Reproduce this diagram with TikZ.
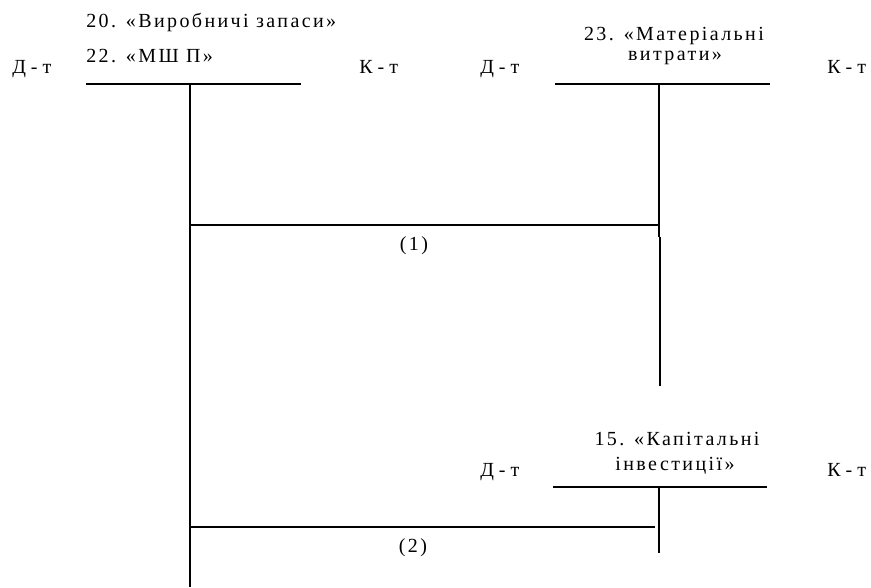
\documentclass[tikz,border=0pt]{standalone}
\usepackage{fontspec}
\setmainfont[LetterSpace=12]{Liberation Serif}
\newfontfamily\widefont[LetterSpace=25]{Liberation Serif}
\begin{document}
\begin{tikzpicture}[x=0.75pt,y=-0.75pt,
  lbl/.style={inner sep=0pt,anchor=base,font=\fontsize{15}{18}\selectfont},
  side/.style={inner sep=0pt,anchor=base west,font=\widefont\fontsize{15}{18}\selectfont},
  acc/.style={line width=1.2pt,black},
  ln/.style={line width=1pt,black}]
\useasboundingbox (0,0) rectangle (871,587);
% left account
\node[side] (d1) at (12,73) {Д-т};
\node[side] (k1) at (359,73) {К-т};
\node[lbl,anchor=base west] (t1a) at (86,27) {20. «Виробничі запаси»};
\node[lbl,anchor=base west] (t1b) at (86,62) {22. «МШ П»};
\coordinate (a1l) at (86,84);
\coordinate (a1r) at (301,84);
\coordinate (a1t) at (190,84);
\coordinate (a1b) at (190,587);
\draw[acc] (a1l) -- (a1r);
\draw[acc] (a1t) -- (a1b);
% right top account
\node[side] (d2) at (480,73) {Д-т};
\node[side] (k2) at (827,73) {К-т};
\node[lbl] (t2a) at (674,40) {23. «Матеріальні};
\node[lbl] (t2b) at (675,60) {витрати»};
\coordinate (a2l) at (555,84);
\coordinate (a2r) at (770,84);
\coordinate (a2t) at (659,84);
\coordinate (a2m) at (659,237);
\coordinate (a2n) at (660,237);
\coordinate (a2b) at (660,386);
\draw[acc] (a2l) -- (a2r);
\draw[acc] (a2t) -- (a2m);
\draw[acc] (a2n) -- (a2b);
% bottom account
\node[side] (d3) at (480,476) {Д-т};
\node[side] (k3) at (827,476) {К-т};
\node[lbl] (t3a) at (677,445) {15. «Капітальні};
\node[lbl] (t3b) at (675,470) {інвестиції»};
\coordinate (a3l) at (553,487);
\coordinate (a3r) at (767,487);
\coordinate (a3t) at (659,487);
\coordinate (a3b) at (659,553);
\draw[acc] (a3l) -- (a3r);
\draw[acc] (a3t) -- (a3b);
% entries
\coordinate (e1s) at (190,225);
\coordinate (e1e) at (659,225);
\draw[ln] (e1s) -- (e1e);
\node[lbl] (n1) at (414,250) {(1)};
\coordinate (e2s) at (190,527);
\coordinate (e2e) at (655,527);
\draw[ln] (e2s) -- (e2e);
\node[lbl] (n2) at (413,552) {(2)};
\end{tikzpicture}
\end{document}
